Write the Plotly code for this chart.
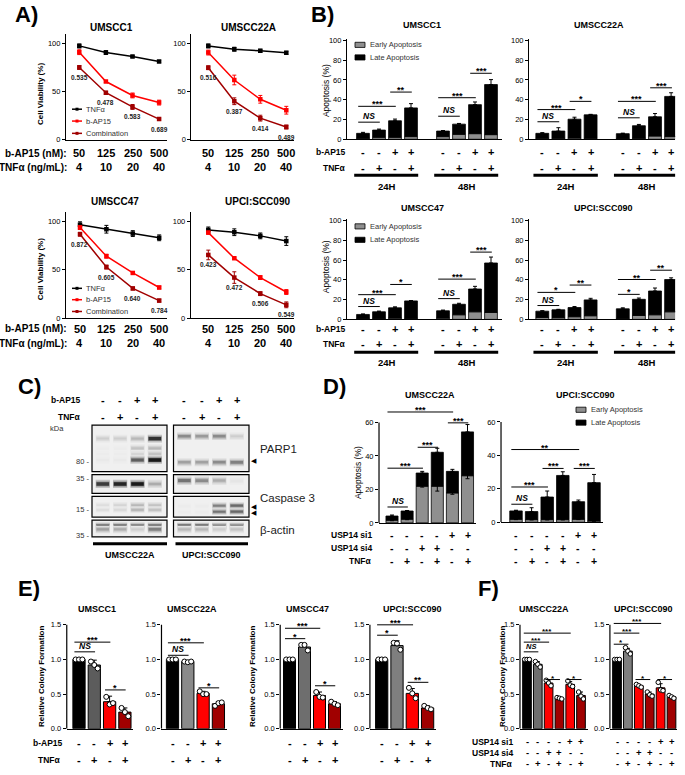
import plotly.graph_objects as go

W, H = 685, 775
FONT = "Liberation Sans, Arial, Helvetica, sans-serif"
RED = "#ff0000"
DRED = "#a00000"
EARLY_GRAY = "#8f8f8f"

# ====================== DATA ======================
# ---- A) cell viability ----
A_CELLS = ["UMSCC1", "UMSCC22A", "UMSCC47", "UPCI:SCC090"]
A_BAP15_NM = ["50", "125", "250", "500"]
A_TNF_NGML = ["4", "10", "20", "40"]
A_TNF = [[97.3, 90.4, 86.3, 81.2], [97.3, 93.9, 92.2, 90.1],
         [96.9, 92.2, 87.7, 83.3], [91.5, 89.1, 85.3, 79.9]]
A_TNF_ERR = [[2, 2, 1, 1], [2, 2, 1.5, 1.5], [3, 4, 3, 3], [3, 3.5, 3, 4.5]]
A_BAP = [[90.8, 60.4, 46.0, 38.6], [90.4, 62.0, 42.0, 30.7],
         [93.9, 64.2, 46.8, 31.7], [88.7, 62.1, 42.0, 27.0]]
A_BAP_ERR = [[2.5, 1, 2.5, 2.5], [2.5, 5, 4, 4], [2, 2, 1, 1.5], [1.5, 1, 2, 2.5]]
A_COMB = [[75.0, 48.8, 34.1, 21.5], [74.7, 40.0, 22.5, 13.3],
          [87.0, 52.9, 30.7, 18.1], [65.5, 42.0, 25.3, 13.7]]
A_COMB_ERR = [[2, 1.5, 2.5, 1], [2, 3.5, 3, 2], [2, 2, 1.5, 1.5], [5, 6, 2, 3]]
A_CI = [["0.535", "0.478", "0.583", "0.689"], ["0.516", "0.387", "0.414", "0.489"],
        ["0.872", "0.605", "0.640", "0.784"], ["0.423", "0.472", "0.506", "0.549"]]
A_SERIES = ["TNFα", "b-AP15", "Combination"]

# ---- B) apoptosis (annexin) ----
B_CELLS = ["UMSCC1", "UMSCC22A", "UMSCC47", "UPCI:SCC090"]
B_TIMES = ["24H", "48H"]
B_BAP15 = ["-", "-", "+", "+", "-", "-", "+", "+"]
B_TNF = ["-", "+", "-", "+", "-", "+", "-", "+"]
B_TOTAL = [[6.0, 9.3, 18.7, 31.7, 8.3, 15.3, 35.0, 55.3],
           [6.0, 8.3, 20.3, 24.7, 5.7, 13.7, 22.7, 43.3],
           [5.0, 7.7, 11.7, 18.7, 8.7, 15.3, 30.7, 57.0],
           [8.3, 9.7, 12.0, 19.7, 10.7, 20.3, 28.7, 40.3]]
B_EARLY = [[1.0, 2.0, 2.0, 2.7, 2.7, 5.0, 5.7, 4.7],
           [1.0, 1.0, 1.3, 1.0, 0.7, 1.0, 3.3, 2.7],
           [0.7, 1.0, 1.3, 1.0, 1.3, 4.7, 7.7, 7.0],
           [2.0, 1.7, 2.7, 3.7, 1.0, 4.0, 4.7, 7.7]]
B_ERR = [[1.0, 1.0, 1.7, 4.3, 0.5, 0.7, 2.7, 5.0],
         [0.7, 3.4, 2.0, 0.5, 0.5, 1.3, 3.3, 3.7],
         [0.5, 0.7, 1.0, 0.3, 0.7, 1.0, 2.7, 6.0],
         [0.5, 0.5, 1.0, 1.6, 1.0, 1.3, 3.0, 1.7]]
B_SIG = [[(0, 1, 17.3, "NS"), (0, 2, 33.3, "***"), (2, 3, 47.7, "**"),
          (4, 5, 23.3, "NS"), (4, 6, 42.0, "***"), (6, 7, 66.7, "***")],
         [(0, 1, 17.7, "NS"), (0, 2, 30.0, "***"), (2, 3, 38.3, "*"),
          (4, 5, 21.7, "NS"), (4, 6, 38.3, "***"), (6, 7, 52.0, "***")],
         [(0, 1, 13.0, "NS"), (0, 2, 25.0, "***"), (2, 3, 35.3, "*"),
          (4, 5, 21.0, "NS"), (4, 6, 40.7, "***"), (6, 7, 68.0, "***")],
         [(0, 1, 14.0, "NS"), (0, 2, 27.3, "*"), (2, 3, 34.7, "**"),
          (4, 5, 25.3, "*"), (4, 6, 40.3, "**"), (6, 7, 49.7, "**")]]

# ---- C) western blot ----
C_CELLS = ["UMSCC22A", "UPCI:SCC090"]
C_BAP15 = ["-", "-", "+", "+"]
C_TNF = ["-", "+", "-", "+"]
C_BLOT_NAMES = ["PARP1", "Caspase 3", "β-actin"]
C_KDA = ["80", "35", "15", "35"]
# (cell line, strip, relative migration in strip (1 = top), band intensity per lane)
C_BANDS = [
    (0, 0, 0.71, [0.15, 0.15, 0.25, 0.85]),
    (0, 0, 0.50, [0.02, 0.02, 0.20, 0.25]),
    (0, 0, 0.38, [0.02, 0.02, 0.12, 0.20]),
    (0, 0, 0.25, [0.03, 0.03, 0.65, 0.95]),
    (1, 0, 0.76, [0.45, 0.38, 0.45, 0.15]),
    (1, 0, 0.20, [0.35, 0.35, 0.45, 0.50]),
    (0, 1, 0.50, [0.80, 0.90, 0.95, 0.30]),
    (1, 1, 0.68, [0.55, 0.45, 0.30, 0.05]),
    (0, 2, 0.58, [0.08, 0.12, 0.25, 0.20]),
    (0, 2, 0.36, [0.08, 0.10, 0.25, 0.20]),
    (1, 2, 0.55, [0.02, 0.02, 0.50, 0.60]),
    (1, 2, 0.26, [0.02, 0.02, 0.55, 0.60]),
    (0, 3, 0.62, [0.85, 0.85, 0.80, 0.85]),
    (0, 3, 0.45, [0.35, 0.30, 0.15, 0.50]),
    (1, 3, 0.62, [0.85, 0.85, 0.80, 0.80]),
    (1, 3, 0.45, [0.25, 0.25, 0.15, 0.20]),
]

# ---- D) USP14 knockdown apoptosis ----
D_CELLS = ["UMSCC22A", "UPCI:SCC090"]
D_SI1 = ["-", "-", "-", "-", "+", "+"]
D_SI4 = ["-", "-", "+", "+", "-", "-"]
D_TNF = ["-", "+", "-", "+", "-", "+"]
D_TOTAL = [[4.1, 7.1, 29.8, 42.2, 30.8, 54.4], [6.8, 6.4, 15.1, 28.0, 12.3, 23.7]]
D_EARLY = [[1.6, 2.2, 21.9, 21.9, 17.9, 28.2], [1.8, 1.6, 1.6, 1.6, 1.8, 0.8]]
D_TOTAL_ERR = [[0.6, 0.3, 1.0, 2.4, 1.2, 4.4], [0.4, 2.3, 3.6, 2.2, 1.0, 4.9]]
D_EARLY_ERR = [[0.3, 0.3, 0.5, 2.9, 0.8, 1.8], [0.2, 0.2, 0.2, 0.2, 0.2, 0.2]]
D_SIG = [[(0, 1, 9.5, "NS"), (0, 2, 32.7, "***"), (2, 3, 45.2, "***"),
          (0, 4, 66.3, "***"), (4, 5, 59.8, "***")],
         [(0, 1, 10.8, "NS"), (0, 2, 21.1, "***"), (2, 3, 32.2, "***"),
          (0, 4, 43.5, "**"), (4, 5, 32.2, "***")]]

# ---- E) colony formation, b-AP15 / TNFa ----
E_CELLS = ["UMSCC1", "UMSCC22A", "UMSCC47", "UPCI:SCC090"]
E_BAP15 = ["-", "-", "+", "+"]
E_TNF = ["-", "+", "-", "+"]
E_MEAN = [[1.0, 0.92, 0.39, 0.24], [1.0, 0.97, 0.51, 0.36],
          [1.0, 1.18, 0.48, 0.36], [1.0, 1.20, 0.51, 0.30]]
E_ERR = [[0, 0.07, 0.08, 0.06], [0, 0.01, 0.03, 0.03],
         [0, 0.04, 0.05, 0.03], [0, 0.07, 0.07, 0.03]]
E_PTS = [[[1, 1, 1], [0.97, 0.92, 0.87], [0.46, 0.35, 0.37], [0.30, 0.24, 0.18]],
         [[1, 1, 1], [0.97, 0.96, 0.97], [0.54, 0.50, 0.50], [0.33, 0.37, 0.38]],
         [[1, 1, 1], [1.21, 1.21, 1.13], [0.53, 0.46, 0.45], [0.39, 0.36, 0.34]],
         [[1, 1, 1], [1.24, 1.23, 1.14], [0.59, 0.51, 0.44], [0.33, 0.30, 0.28]]]
E_SIG = [[(0, 1, 1.11, "NS"), (0, 2, 1.25, "***"), (2, 3, 0.56, "*")],
         [(0, 1, 1.06, "NS"), (0, 2, 1.24, "***"), (2, 3, 0.59, "*")],
         [(0, 1, 1.30, "*"), (0, 2, 1.45, "***"), (2, 3, 0.62, "*")],
         [(0, 1, 1.35, "*"), (0, 2, 1.50, "***"), (2, 3, 0.67, "**")]]

# ---- F) colony formation, USP14 knockdown ----
F_CELLS = ["UMSCC22A", "UPCI:SCC090"]
F_SI1 = ["-", "-", "-", "-", "+", "+"]
F_SI4 = ["-", "-", "+", "+", "-", "-"]
F_TNF = ["-", "+", "-", "+", "-", "+"]
F_MEAN = [[1.0, 0.93, 0.66, 0.44, 0.64, 0.48], [1.0, 1.12, 0.62, 0.50, 0.59, 0.46]]
F_ERR = [[0, 0.04, 0.04, 0.01, 0.04, 0.05], [0, 0.04, 0.02, 0.03, 0.06, 0.02]]
F_PTS = [[[1, 1, 1], [0.97, 0.93, 0.89], [0.70, 0.66, 0.62], [0.45, 0.44, 0.43], [0.69, 0.63, 0.61], [0.53, 0.47, 0.43]],
         [[1, 1, 1], [1.17, 1.12, 1.08], [0.64, 0.62, 0.60], [0.53, 0.49, 0.47], [0.67, 0.56, 0.55], [0.48, 0.46, 0.44]]]
F_SIG = [[(0, 1, 1.11, "NS"), (0, 2, 1.25, "***"), (0, 4, 1.38, "***"), (2, 3, 0.71, "*"), (4, 5, 0.71, "*")],
         [(0, 1, 1.22, "*"), (0, 2, 1.38, "***"), (0, 4, 1.52, "***"), (2, 3, 0.71, "*"), (4, 5, 0.71, "*")]]

# ====================== LAYOUT GEOMETRY (pixels) ======================
# (px of x=0, px per x unit, x range, px of y=0, px per y unit, y range)
GEO_A = [(79.3, 26.6, [-0.5, 3.3], 138.3, 0.976, [0, 110]),
         (208.3, 26.0, [-0.65, 3.3], 138.3, 0.976, [0, 110]),
         (80.0, 26.4, [-0.53, 3.3], 318.3, 0.973, [0, 110]),
         (208.3, 26.0, [-0.67, 3.3], 318.3, 0.973, [0, 110])]
GEO_B = [(363.0, 16.0, [-1.0, 8.67], 137.7, 1.0, [0, 101]),
         (542.3, 16.1, [-0.82, 8.25], 137.7, 1.0, [0, 101]),
         (363.0, 16.0, [-1.0, 8.67], 319.7, 1.0, [0, 101]),
         (542.3, 16.1, [-0.82, 8.25], 319.7, 1.0, [0, 101])]
GEO_D = [(392.0, 15.1, [-0.86, 5.55], 525.3, 1.69, [0, 71]),
         (516.0, 15.6, [-0.96, 5.6], 524.7, 1.69, [0, 71])]
GEO_E = [(79.0, 15.3, [-0.8, 3.55], 733.3, 70, [0, 1.64]),
         (172.5, 15.3, [-0.72, 3.55], 733.3, 70, [0, 1.64]),
         (289.5, 15.0, [-0.62, 3.55], 733.3, 70, [0, 1.64]),
         (381.7, 15.3, [-0.77, 3.55], 733.3, 70, [0, 1.64])]
GEO_F = [(527.0, 10.8, [-0.65, 5.65], 733.3, 70, [0, 1.64]),
         (617.0, 10.9, [-0.65, 5.5], 733.3, 70, [0, 1.64])]
C_STRIP_Y = [(426.5, 473.5), (476.5, 495.5), (498.5, 519.5), (522.5, 539.5)]
C_STRIP_X = [(92.0, 167.0), (173.5, 249.0)]
C_BAND_PX = [3.0, 3.2, 2.4, 3.0]

layout_axes = {}
shapes = []
annotations = []
traces = []
_n = [0]


def px(x):
    return x / W


def py(y):
    return 1 - y / H


def new_axes_px(left, right, top, bottom, xr, yr, ykw=None, show_x=True):
    _n[0] += 1
    s = "" if _n[0] == 1 else str(_n[0])
    xa = dict(domain=[px(left), px(right)], range=xr, anchor="y" + s, showgrid=False,
              zeroline=False, ticks="", showticklabels=False, showline=show_x,
              linecolor="black", linewidth=1.2, fixedrange=True)
    ya = dict(domain=[py(bottom), py(top)], range=yr, anchor="x" + s, showgrid=False,
              zeroline=False, ticks="", showticklabels=False, showline=False, fixedrange=True)
    if ykw:
        ya.update(ykw)
    layout_axes["xaxis" + s] = xa
    layout_axes["yaxis" + s] = ya
    return "x" + s, "y" + s


def new_axes(geo, ykw=None):
    x0p, xu, xr, y0p, yu, yr = geo
    return new_axes_px(x0p + xr[0] * xu, x0p + xr[1] * xu,
                       y0p - yr[1] * yu, y0p - yr[0] * yu, xr, yr, ykw)


def yticks(vals, texts, line=True):
    return dict(ticks="outside", ticklen=3, tickwidth=1, tickcolor="black",
                tickvals=vals, ticktext=texts, showticklabels=True,
                tickfont=dict(size=7.5, color="black", family=FONT),
                showline=line, linecolor="black", linewidth=1.2)


def yline(xa, ya, top):
    shapes.append(dict(type="line", xref=xa + " domain", yref=ya, x0=0, x1=0, y0=0, y1=top,
                       line=dict(color="black", width=1.2)))


def txt(x, y, s, size, xanchor="center", yanchor="middle", angle=0, color="black",
        xref="paper", yref="paper", yshift=0, xshift=0):
    annotations.append(dict(
        x=px(x) if xref == "paper" else x, y=py(y) if yref == "paper" else y,
        xref=xref, yref=yref, text=s, showarrow=False, xanchor=xanchor, yanchor=yanchor,
        textangle=angle, yshift=yshift, xshift=xshift, borderpad=0,
        font=dict(size=size, color=color, family=FONT)))


def add_sig(xa, ya, xs, sig, size=9):
    for i, j, yv, lab in sig:
        x0, x1 = xs[i] - 0.3, xs[j] + 0.05
        shapes.append(dict(type="line", xref=xa, yref=ya, x0=x0, x1=x1, y0=yv, y1=yv,
                           line=dict(color="black", width=1)))
        if lab == "NS":
            txt((x0 + x1) / 2, yv, "<b><i>NS</i></b>", size - 0.5, yanchor="bottom",
                xref=xa, yref=ya, yshift=0)
        else:
            txt((x0 + x1) / 2, yv, "<b>" + lab + "</b>", size, yanchor="bottom",
                xref=xa, yref=ya, yshift=-4)


def add_row(xa, xs, labels, ypix, size=9.5):
    for x, lab in zip(xs, labels):
        txt(x, ypix, "<b>" + lab + "</b>", size, xref=xa)


def rect_legend(x, ys, names, colors):
    for yy, nm, col in zip(ys, names, colors):
        shapes.append(dict(type="rect", xref="paper", yref="paper", x0=px(x), x1=px(x + 10),
                           y0=py(yy + 2.6), y1=py(yy - 2.6), fillcolor=col,
                           line=dict(color="black", width=0.8)))
        txt(x + 14, yy, nm, 7.5, xanchor="left", color="#333333")


# ====================== PANEL LETTERS ======================
for letter, (lx, ly) in zip(["A)", "B)", "C)", "D)", "E)", "F)"],
                            [(14, 12), (310, 12), (17, 388), (322, 388), (17, 592), (477, 592)]):
    txt(lx, ly, "<b>" + letter + "</b>", 22, xanchor="left")

# ====================== A ======================
A_TITLE_POS = [(111, 25), (248, 25), (115, 201), (257, 201)]
A_ROW_Y = [(152, 166), (152, 166), (329, 344), (329, 344)]
A_LEG_Y = [(107.3, 119.3, 131.7), None, (288.3, 299.8, 311.7), None]
A_COLORS = ["black", RED, DRED]
for k in range(4):
    xa, ya = new_axes(GEO_A[k], yticks([0, 50, 100], ["0", "50", "100"]))
    xs = list(range(len(A_BAP15_NM)))
    for vals, errs, col in ((A_TNF[k], A_TNF_ERR[k], A_COLORS[0]),
                            (A_BAP[k], A_BAP_ERR[k], A_COLORS[1]),
                            (A_COMB[k], A_COMB_ERR[k], A_COLORS[2])):
        traces.append(go.Scatter(
            x=xs, y=vals, mode="lines+markers", xaxis=xa, yaxis=ya, showlegend=False,
            line=dict(color=col, width=1.5), marker=dict(color=col, size=4.5, symbol="square"),
            error_y=dict(type="data", array=errs, color=col, thickness=1, width=2)))
    for i, lab in enumerate(A_CI[k]):
        txt(xs[i], A_COMB[k][i], "<b>" + lab + "</b>", 6.5, xref=xa, yref=ya,
            yshift=-10, color="#222222")
    tx, ty = A_TITLE_POS[k]
    txt(tx, ty, "<b>" + A_CELLS[k] + "</b>", 10)
    add_row(xa, xs, A_BAP15_NM, A_ROW_Y[k][0], 11)
    add_row(xa, xs, A_TNF_NGML, A_ROW_Y[k][1], 11)
    if k in (0, 2):
        txt(68, A_ROW_Y[k][0], "<b>b-AP15 (nM):</b>", 10, xanchor="right")
        txt(68, A_ROW_Y[k][1], "<b>TNFα (ng/mL):</b>", 10, xanchor="right")
        txt(40, (A_ROW_Y[k][0] - 60), "<b>Cell Viability (%)</b>", 8, angle=-90)
        for yy, nm, col in zip(A_LEG_Y[k], A_SERIES, A_COLORS):
            shapes.append(dict(type="line", xref="paper", yref="paper", x0=px(72), x1=px(82),
                               y0=py(yy), y1=py(yy), line=dict(color=col, width=1.5)))
            shapes.append(dict(type="rect", xref="paper", yref="paper", x0=px(75.5), x1=px(78.5),
                               y0=py(yy - 1.5), y1=py(yy + 1.5), fillcolor=col, line=dict(width=0)))
            txt(85, yy, nm, 7.5, xanchor="left", color="#333333")

# ====================== B ======================
B_XS = [0, 1, 2, 3, 5, 6, 7, 8]
B_TITLE_POS = [(422, 22), (599, 22), (422, 207), (603, 207)]
B_ROW_Y = [(151, 167, 174, 185), (151, 167, 174, 185), (329, 345, 353, 363), (329, 345, 353, 363)]
B_LEG_Y = [(42.3, 55.0), None, (225.7, 239.3), None]
for k in range(4):
    xa, ya = new_axes(GEO_B[k], yticks([0, 20, 40, 60, 80, 100], ["0", "20", "40", "60", "80", "100"]))
    late = [t - e for t, e in zip(B_TOTAL[k], B_EARLY[k])]
    traces.append(go.Bar(x=B_XS, y=B_EARLY[k], width=0.8, xaxis=xa, yaxis=ya, showlegend=False,
                         marker=dict(color=EARLY_GRAY, line=dict(color="black", width=0.8))))
    traces.append(go.Bar(x=B_XS, y=late, base=B_EARLY[k], width=0.8, xaxis=xa, yaxis=ya,
                         showlegend=False, marker=dict(color="black", line=dict(color="black", width=0.8))))
    traces.append(go.Scatter(x=B_XS, y=B_TOTAL[k], mode="markers", xaxis=xa, yaxis=ya, showlegend=False,
                             marker=dict(size=1, opacity=0),
                             error_y=dict(type="data", symmetric=False, array=B_ERR[k],
                                          arrayminus=[0] * len(B_XS), color="black", thickness=1, width=2)))
    add_sig(xa, ya, B_XS, B_SIG[k], 9)
    tx, ty = B_TITLE_POS[k]
    txt(tx, ty, "<b>" + B_CELLS[k] + "</b>", 9)
    r1, r2, rl, rt = B_ROW_Y[k]
    add_row(xa, B_XS, B_BAP15, r1, 11)
    add_row(xa, B_XS, B_TNF, r2, 11)
    for g, lab in enumerate(B_TIMES):
        g0, g1 = B_XS[4 * g], B_XS[4 * g + 3]
        shapes.append(dict(type="line", xref=xa, yref="paper", x0=g0 - 0.55, x1=g1 + 0.45,
                           y0=py(rl), y1=py(rl), line=dict(color="black", width=3)))
        txt((g0 + g1) / 2, rt, "<b>" + lab + "</b>", 9.5, xref=xa)
    if k in (0, 2):
        txt(347, r1, "<b>b-AP15</b>", 8.5, xanchor="right")
        txt(347, r2, "<b>TNFα</b>", 8.5, xanchor="right")
        txt(326, r1 - 62, "Apoptosis (%)", 8.5, angle=-90)
        rect_legend(355, B_LEG_Y[k], ["Early Apoptosis", "Late Apoptosis"], [EARLY_GRAY, "black"])

# ====================== C (western blot) ======================
C_LANES = [0, 1, 2, 3]
strip_axes = {}
for s in range(2):
    for r in range(4):
        xa, ya = new_axes_px(C_STRIP_X[s][0], C_STRIP_X[s][1], C_STRIP_Y[r][0], C_STRIP_Y[r][1],
                             [-0.62, 3.7], [0, 1], show_x=False)
        strip_axes[(s, r)] = (xa, ya)
        shapes.append(dict(type="rect", xref=xa + " domain", yref=ya + " domain", x0=0, x1=1, y0=0, y1=1,
                           fillcolor="#f0f0f0", line=dict(color="black", width=1.2), layer="below"))


def gray(i):
    g = int(round(240 - 225 * max(0.0, min(1.0, i))))
    return "rgb(%d,%d,%d)" % (g, g, g)


for cell, strip, pos, ints in C_BANDS:
    xa, ya = strip_axes[(cell, strip)]
    hpx = C_STRIP_Y[strip][1] - C_STRIP_Y[strip][0]
    t = C_BAND_PX[strip] / hpx
    halo_h = [t * 2.6 for _ in ints]
    traces.append(go.Bar(x=C_LANES, y=halo_h, base=[pos - h / 2 for h in halo_h], width=0.82,
                         xaxis=xa, yaxis=ya, showlegend=False, hoverinfo="skip",
                         marker=dict(color=[gray(0.25 * i) for i in ints], line=dict(width=0))))
    mid_h = [t * 1.6 for _ in ints]
    traces.append(go.Bar(x=C_LANES, y=mid_h, base=[pos - h / 2 for h in mid_h], width=0.78,
                         xaxis=xa, yaxis=ya, showlegend=False, hoverinfo="skip",
                         marker=dict(color=[gray(0.55 * i) for i in ints], line=dict(width=0))))
    core_h = [t * (0.6 + 0.6 * i) for i in ints]
    traces.append(go.Bar(x=C_LANES, y=core_h, base=[pos - h / 2 for h in core_h], width=0.72,
                         xaxis=xa, yaxis=ya, showlegend=False, hoverinfo="skip",
                         marker=dict(color=[gray(i) for i in ints], line=dict(width=0))))

for s in range(2):
    xa, _ = strip_axes[(s, 0)]
    add_row(xa, C_LANES, C_BAP15, 401, 11)
    add_row(xa, C_LANES, C_TNF, 418, 11)
txt(82, 401, "<b>b-AP15</b>", 8.5, xanchor="right")
txt(82, 418, "<b>TNFα</b>", 8.5, xanchor="right")
txt(57, 430, "kDa", 7.5, color="#333333")
for lab, yy in zip(C_KDA, [463, 480.5, 512, 538.5]):
    txt(90, yy, lab + " -", 7.5, xanchor="right", color="#333333")
for nm, yy in zip(C_BLOT_NAMES, [451, 500, 532]):
    txt(259, yy, nm, 11.5, xanchor="left", color="#222222")
for yy in [462, 508.5, 515]:
    txt(250, yy, "◀", 7, xanchor="left")
for (x0, x1), nm in zip([(93, 167), (175.5, 248)], C_CELLS):
    shapes.append(dict(type="line", xref="paper", yref="paper", x0=px(x0), x1=px(x1),
                       y0=py(546.5), y1=py(546.5), line=dict(color="black", width=3)))
    txt((x0 + x1) / 2, 557.5, "<b>" + nm + "</b>", 9)

# ====================== D ======================
D_XS = [0, 1, 2, 3, 4, 5]
D_TITLE_POS = [(430, 396), (585, 396)]
for k in range(2):
    xa, ya = new_axes(GEO_D[k], yticks([0, 20, 40, 60], ["0", "20", "40", "60"], line=False))
    yline(xa, ya, 60)
    late = [t - e for t, e in zip(D_TOTAL[k], D_EARLY[k])]
    traces.append(go.Bar(x=D_XS, y=D_EARLY[k], width=0.8, xaxis=xa, yaxis=ya, showlegend=False,
                         marker=dict(color=EARLY_GRAY, line=dict(color="black", width=0.8))))
    traces.append(go.Bar(x=D_XS, y=late, base=D_EARLY[k], width=0.8, xaxis=xa, yaxis=ya,
                         showlegend=False, marker=dict(color="black", line=dict(color="black", width=0.8))))
    traces.append(go.Scatter(x=D_XS, y=D_EARLY[k], mode="markers", xaxis=xa, yaxis=ya, showlegend=False,
                             marker=dict(size=1, opacity=0),
                             error_y=dict(type="data", array=D_EARLY_ERR[k], color="black", thickness=1, width=2)))
    traces.append(go.Scatter(x=D_XS, y=D_TOTAL[k], mode="markers", xaxis=xa, yaxis=ya, showlegend=False,
                             marker=dict(size=1, opacity=0),
                             error_y=dict(type="data", symmetric=False, array=D_TOTAL_ERR[k],
                                          arrayminus=[0] * len(D_XS), color="black", thickness=1, width=2)))
    add_sig(xa, ya, D_XS, D_SIG[k], 9)
    tx, ty = D_TITLE_POS[k]
    txt(tx, ty, "<b>" + D_CELLS[k] + "</b>", 9)
    add_row(xa, D_XS, D_SI1, 538, 10.5)
    add_row(xa, D_XS, D_SI4, 551, 10.5)
    add_row(xa, D_XS, D_TNF, 564, 10.5)
    if k == 0:
        txt(373, 538, "<b>USP14 si1</b>", 8.5, xanchor="right")
        txt(373, 551, "<b>USP14 si4</b>", 8.5, xanchor="right")
        txt(373, 564, "<b>TNFα</b>", 8.5, xanchor="right")
        txt(358, 475, "Apoptosis (%)", 8.5, angle=-90)
rect_legend(576, (411, 424), ["Early Apoptosis", "Late Apoptosis"], [EARLY_GRAY, "black"])

# ====================== E ======================
E_XS = [0, 1, 2, 3]
E_GRAYS = ["#5c5c5c", "#8a8a8a", "#6e6e6e", "#7f7f7f"]
E_TITLE_POS = [(97, 612), (192, 612), (307, 612), (412, 612)]
E_YT = ["0.0", "0.5", "1.0", "1.5"]
OFFS = [-0.22, 0.0, 0.22]
for k in range(4):
    xa, ya = new_axes(GEO_E[k], yticks([0, 0.5, 1.0, 1.5], E_YT, line=False))
    yline(xa, ya, 1.5)
    cols = ["black", E_GRAYS[k], RED, DRED]
    traces.append(go.Bar(x=E_XS, y=E_MEAN[k], width=0.8, xaxis=xa, yaxis=ya, showlegend=False,
                         marker=dict(color=cols, line=dict(color="black", width=1)),
                         error_y=dict(type="data", symmetric=False, array=E_ERR[k],
                                      arrayminus=[0] * 4, color="black", thickness=1, width=2.5)))
    dx, dy = [], []
    for i, pts in enumerate(E_PTS[k]):
        for o, v in zip(OFFS, pts):
            dx.append(E_XS[i] + o)
            dy.append(v)
    traces.append(go.Scatter(x=dx, y=dy, mode="markers", xaxis=xa, yaxis=ya, showlegend=False,
                             marker=dict(size=5, color="white", line=dict(color="black", width=1))))
    add_sig(xa, ya, E_XS, E_SIG[k], 9)
    tx, ty = E_TITLE_POS[k]
    txt(tx, ty, "<b>" + E_CELLS[k] + "</b>", 9)
    add_row(xa, E_XS, E_BAP15, 748, 11)
    add_row(xa, E_XS, E_TNF, 765, 11)
    if k in (0, 2):
        txt([42, None, 253][k], 681, "<b>Relative Colony Formation</b>", 8, angle=-90)
txt(48, 748, "<b>b-AP15</b>", 8.5)
txt(50, 765, "<b>TNFα</b>", 8.5)

# ====================== F ======================
F_XS = [0, 1, 2, 3, 4, 5]
F_GRAYS = ["#6e6e6e", "#7f7f7f"]
F_TITLE_POS = [(544, 612), (643, 612)]
for k in range(2):
    xa, ya = new_axes(GEO_F[k], yticks([0, 0.5, 1.0, 1.5], E_YT, line=False))
    yline(xa, ya, 1.5)
    cols = ["black", F_GRAYS[k], RED, DRED, RED, DRED]
    traces.append(go.Bar(x=F_XS, y=F_MEAN[k], width=0.8, xaxis=xa, yaxis=ya, showlegend=False,
                         marker=dict(color=cols, line=dict(color="black", width=1)),
                         error_y=dict(type="data", symmetric=False, array=F_ERR[k],
                                      arrayminus=[0] * 6, color="black", thickness=1, width=2)))
    dx, dy = [], []
    for i, pts in enumerate(F_PTS[k]):
        for o, v in zip(OFFS, pts):
            dx.append(F_XS[i] + o)
            dy.append(v)
    traces.append(go.Scatter(x=dx, y=dy, mode="markers", xaxis=xa, yaxis=ya, showlegend=False,
                             marker=dict(size=4.5, color="white", line=dict(color="black", width=1))))
    add_sig(xa, ya, F_XS, F_SIG[k], 8)
    tx, ty = F_TITLE_POS[k]
    txt(tx, ty, "<b>" + F_CELLS[k] + "</b>", 9)
    add_row(xa, F_XS, F_SI1, 746.5, 9.5)
    add_row(xa, F_XS, F_SI4, 757.5, 9.5)
    add_row(xa, F_XS, F_TNF, 768.5, 9.5)
    if k == 0:
        txt(514, 746.5, "<b>USP14 si1</b>", 8.5, xanchor="right")
        txt(514, 757.5, "<b>USP14 si4</b>", 8.5, xanchor="right")
        txt(514, 768.5, "<b>TNFα</b>", 8.5, xanchor="right")
        txt(503, 681, "<b>Relative Colony Formation</b>", 8, angle=-90)

# ====================== FIGURE ======================
fig = go.Figure(data=traces)
fig.update_layout(
    width=W, height=H, margin=dict(l=0, r=0, t=0, b=0, pad=0),
    paper_bgcolor="white", plot_bgcolor="rgba(0,0,0,0)",
    font=dict(family=FONT, color="black", size=9),
    barmode="overlay", showlegend=False,
    shapes=shapes, annotations=annotations,
    **layout_axes,
)
fig.write_html("out.html", config={"displayModeBar": False},
               post_script="document.body.style.margin='0px';document.body.style.padding='0px';"
                           "document.documentElement.style.overflow='hidden';")
